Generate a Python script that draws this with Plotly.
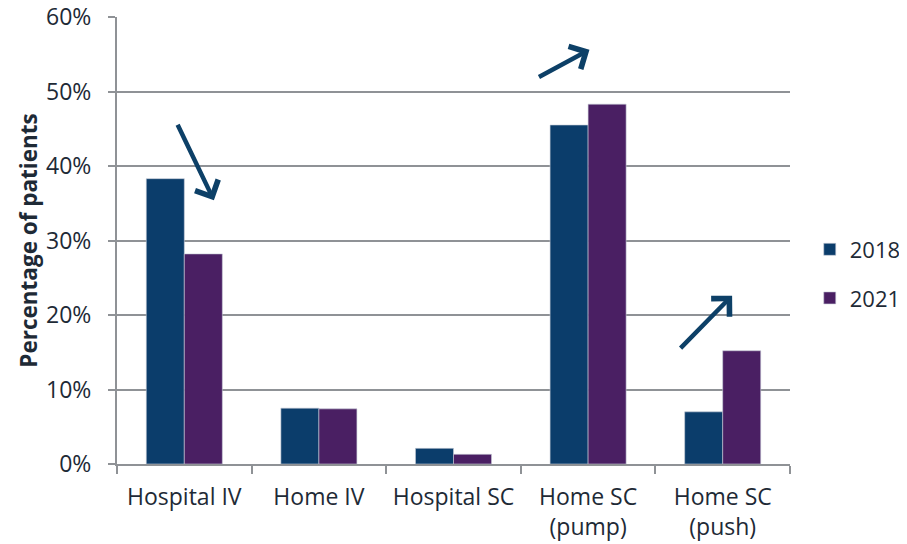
import plotly.graph_objects as go

categories = ["Hospital IV", "Home IV", "Hospital SC", "Home SC<br>(pump)", "Home SC<br>(push)"]
values_2018 = [0.383, 0.075, 0.021, 0.455, 0.070]
values_2021 = [0.282, 0.074, 0.013, 0.483, 0.152]
y_ticks = [0, 0.1, 0.2, 0.3, 0.4, 0.5, 0.6]

# arrows: head (category index, value) and tail pixel offset
arrows = [
    dict(x=0.22, y=0.354, ax=-37, ay=-77),
    dict(x=3.01, y=0.556, ax=-52, ay=28),
    dict(x=4.07, y=0.226, ax=-53, ay=54),
]

C2018 = "#0b3d6b"
C2021 = "#4a1f63"
ARROW = "#0d4067"
TXT = "#1e2a36"
GRID = "#8f9296"

fig = go.Figure()
fig.add_trace(go.Bar(x=categories, y=values_2018, name="2018", legendgroup="a",
                     marker=dict(color=C2018, line=dict(color="#c8cdd6", width=0.6))))
fig.add_trace(go.Bar(x=categories, y=values_2021, name="2021", legendgroup="b",
                     marker=dict(color=C2021, line=dict(color="#c8cdd6", width=0.6))))

for a in arrows:
    fig.add_annotation(x=a["x"], y=a["y"], xref="x", yref="y", ax=a["ax"], ay=a["ay"],
                       axref="pixel", ayref="pixel", text="", showarrow=True,
                       arrowhead=4, arrowsize=1.1, arrowwidth=4.5, arrowcolor=ARROW, standoff=0)

# the page body has an 8px margin, so the figure is drawn 8px in from the top-left
fig.update_layout(
    width=899, height=536,
    margin=dict(l=109, r=117, t=9, b=80, autoexpand=False),
    paper_bgcolor="white", plot_bgcolor="white",
    barmode="group", bargap=0.435, bargroupgap=0,
    font=dict(family="Open Sans", size=22, color=TXT),
    legend=dict(x=1.172, y=0.425, xanchor="right", yanchor="middle",
                traceorder="grouped", tracegroupgap=17,
                font=dict(size=22, color=TXT), itemwidth=30),
    showlegend=True,
)
fig.update_xaxes(showgrid=False, showline=True, linecolor=GRID, linewidth=2,
                 ticks="outside", tickson="boundaries", ticklen=8, tickcolor=GRID, tickwidth=2,
                 ticklabelstandoff=11, ticklabeloverflow="allow",
                 tickfont=dict(size=23, color=TXT), range=[-0.5, 4.5], automargin=False)
fig.update_yaxes(range=[0, 0.6], tickvals=y_ticks, tickformat=".0%",
                 showgrid=True, gridcolor=GRID, gridwidth=2,
                 showline=True, linecolor=GRID, linewidth=2,
                 ticks="outside", ticklen=7, tickcolor=GRID, tickwidth=2,
                 ticklabelstandoff=12, ticklabeloverflow="allow",
                 tickfont=dict(size=23, color=TXT), zeroline=False, automargin=False,
                 title=dict(text="<b>Percentage of patients</b>", font=dict(size=22.5, color=TXT), standoff=2))

fig.write_html("out.html")
